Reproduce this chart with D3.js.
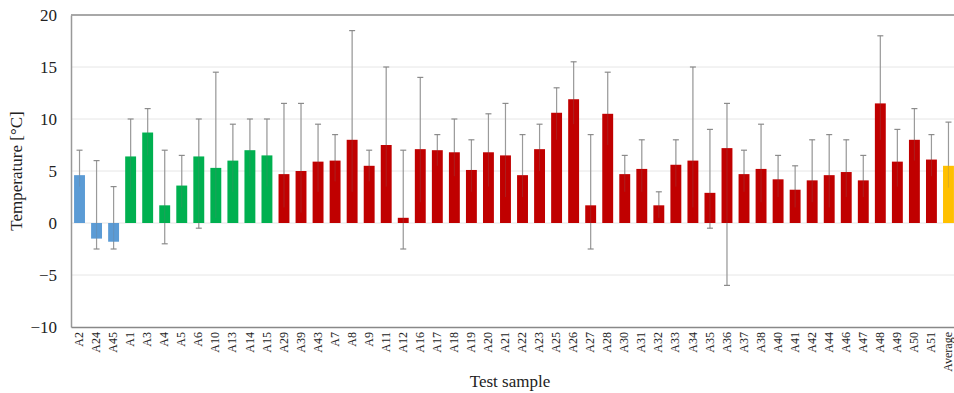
<!DOCTYPE html>
<html>
<head>
<meta charset="utf-8">
<script src="https://cdn.jsdelivr.net/npm/d3@7/dist/d3.min.js"></script>
<style>
  body { margin: 0; background: #fff; }
  text { font-family: "Liberation Serif", "Times New Roman", serif; fill: #222; }
</style>
</head>
<body>
<script>
// sample names in plotted order
var samples = ["A2","A24","A45","A1","A3","A4","A5","A6","A10","A13","A14","A15",
  "A29","A39","A43","A7","A8","A9","A11","A12","A16","A17","A18","A19","A20","A21",
  "A22","A23","A25","A26","A27","A28","A30","A31","A32","A33","A34","A35","A36","A37",
  "A38","A40","A41","A42","A44","A46","A47","A48","A49","A50","A51","Average"];

// group of each sample (sets the colour)
var groups = ["b","b","b","g","g","g","g","g","g","g","g","g",
  "r","r","r","r","r","r","r","r","r","r","r","r","r","r",
  "r","r","r","r","r","r","r","r","r","r","r","r","r","r",
  "r","r","r","r","r","r","r","r","r","r","r","y"];

// mean temperature
var means = [4.6,-1.5,-1.8,6.4,8.7,1.7,3.6,6.4,5.3,6.0,7.0,6.5,
  4.7,5.0,5.9,6.0,8.0,5.5,7.5,0.5,7.1,7.0,6.8,5.1,6.8,6.5,
  4.6,7.1,10.6,11.9,1.7,10.5,4.7,5.2,1.7,5.6,6.0,2.9,7.2,4.7,
  5.2,4.2,3.2,4.1,4.6,4.9,4.1,11.5,5.9,8.0,6.1,5.5];

// max of the error bar
var highs = [7.0,6.0,3.5,10.0,11.0,7.0,6.5,10.0,14.5,9.5,10.0,10.0,
  11.5,11.5,9.5,8.5,18.5,7.0,15.0,7.0,14.0,8.5,10.0,8.0,10.5,11.5,
  8.5,9.5,13.0,15.5,8.5,14.5,6.5,8.0,3.0,8.0,15.0,9.0,11.5,7.0,
  9.5,6.5,5.5,8.0,8.5,8.0,6.5,18.0,9.0,11.0,8.5,9.7];

// min of the error bar
var lows = [3.5,-2.5,-2.5,3.0,6.5,-2.0,1.5,-0.5,0.5,3.0,4.5,3.5,
  1.5,1.0,3.0,4.0,3.0,4.0,3.5,-2.5,2.0,5.5,4.5,3.0,3.5,2.5,
  2.5,5.0,8.0,9.5,-2.5,7.5,3.0,3.0,0.5,3.5,1.5,-0.5,-6.0,3.0,
  2.0,2.5,1.5,2.0,1.5,2.5,2.5,8.0,3.5,6.0,4.5,3.4];

var yTicks = [-10,-5,0,5,10,15,20];

var colours = {b: "#5b9bd5", g: "#00b050", r: "#c00000", y: "#ffc000"};

var data = samples.map(function(s, i) {
  return {name: s, group: groups[i], mean: means[i], hi: highs[i], lo: lows[i]};
});

var W = 954, H = 393;
var margin = {top: 15, left: 71};
var plotH = 312, plotW = 886;

var svg = d3.select("body").append("svg")
  .attr("width", W).attr("height", H);

var g = svg.append("g")
  .attr("transform", "translate(" + margin.left + "," + margin.top + ")");

var x = d3.scaleBand().domain(samples).range([0, plotW]).paddingInner(0.36).paddingOuter(0.18);
var y = d3.scaleLinear().domain([-10, 20]).range([plotH, 0]);

// gridlines
g.selectAll(".grid").data(yTicks.filter(function(t) { return t > -10 && t < 20; }))
  .enter().append("line")
  .attr("x1", 0).attr("x2", plotW)
  .attr("y1", function(d) { return y(d); }).attr("y2", function(d) { return y(d); })
  .attr("stroke", "#e6e6e6").attr("stroke-width", 1);

// top border line
g.append("line").attr("x1", 0).attr("x2", plotW)
  .attr("y1", y(20)).attr("y2", y(20))
  .attr("stroke", "#a8a8a8").attr("stroke-width", 2);

// error bars (behind the bars)
var eb = g.selectAll(".eb").data(data).enter().append("g");
eb.append("line")
  .attr("x1", function(d) { return x(d.name) + x.bandwidth() / 2; })
  .attr("x2", function(d) { return x(d.name) + x.bandwidth() / 2; })
  .attr("y1", function(d) { return y(d.hi); })
  .attr("y2", function(d) { return y(d.lo); })
  .attr("stroke", "#a6a6a6").attr("stroke-width", 1.2);
["hi", "lo"].forEach(function(k) {
  eb.append("line")
    .attr("x1", function(d) { return x(d.name) + x.bandwidth() / 2 - 3; })
    .attr("x2", function(d) { return x(d.name) + x.bandwidth() / 2 + 3; })
    .attr("y1", function(d) { return y(d[k]); })
    .attr("y2", function(d) { return y(d[k]); })
    .attr("stroke", "#8c8c8c").attr("stroke-width", 1.2);
});

// bars
g.selectAll(".bar").data(data).enter().append("rect")
  .attr("x", function(d) { return x(d.name); })
  .attr("width", x.bandwidth())
  .attr("y", function(d) { return y(Math.max(0, d.mean)); })
  .attr("height", function(d) { return Math.abs(y(d.mean) - y(0)); })
  .attr("fill", function(d) { return colours[d.group]; });

// faint whisker showing through the bars
g.selectAll(".inner").data(data).enter().append("line")
  .attr("x1", function(d) { return x(d.name) + x.bandwidth() / 2; })
  .attr("x2", function(d) { return x(d.name) + x.bandwidth() / 2; })
  .attr("y1", function(d) { return y(d.hi); })
  .attr("y2", function(d) { return y(d.lo); })
  .attr("stroke", "#777").attr("stroke-opacity", 0.25).attr("stroke-width", 1);

// y axis
var yAxis = g.append("g").call(d3.axisLeft(y).tickValues(yTicks).tickSize(0).tickPadding(14));
yAxis.select(".domain").attr("stroke", "#999").attr("stroke-width", 1.5);
yAxis.selectAll("text").style("font-size", "17px")
  .style("font-family", "'Liberation Serif', serif").attr("fill", "#222");

// x axis at the bottom
var xAxis = g.append("g").attr("transform", "translate(0," + plotH + ")")
  .call(d3.axisBottom(x).tickSize(0));
xAxis.select(".domain").attr("stroke", "#888").attr("stroke-width", 1.5);
xAxis.selectAll("text")
  .style("font-size", "12px")
  .style("font-family", "'Liberation Serif', serif")
  .attr("fill", "#222")
  .attr("transform", "rotate(-90)")
  .attr("text-anchor", "end")
  .attr("x", -5).attr("y", 0).attr("dy", "0.3em");

// axis titles
svg.append("text")
  .attr("transform", "translate(22," + (margin.top + plotH / 2) + ") rotate(-90)")
  .attr("text-anchor", "middle")
  .style("font-size", "17px")
  .text("Temperature [°C]");

svg.append("text")
  .attr("x", 510).attr("y", 387)
  .attr("text-anchor", "middle")
  .style("font-size", "17px")
  .text("Test sample");
</script>
</body>
</html>
